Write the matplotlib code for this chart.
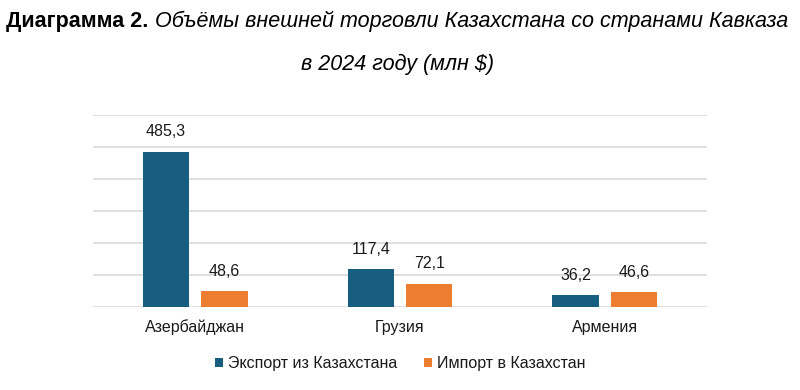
import matplotlib
matplotlib.use("Agg")
import matplotlib.pyplot as plt
import numpy as np

plt.rcParams['font.family'] = ['Liberation Sans', 'DejaVu Sans']

countries = ['Азербайджан', 'Грузия', 'Армения']
export_vals = [485.3, 117.4, 36.2]
import_vals = [48.6, 72.1, 46.6]
series_names = ['Экспорт из Казахстана', 'Импорт в Казахстан']
title_bold = 'Диаграмма 2.'
title_italic = ' Объёмы внешней торговли Казахстана со странами Кавказа'
title_line2 = 'в 2024 году (млн $)'

BLUE = '#185e80'
ORANGE = '#ed7d31'

fig = plt.figure(figsize=(8, 3.9), dpi=100)
ax = fig.add_axes([0.116, 0.2128, 0.768, 0.4923])

x = np.arange(len(countries))
w = 0.225
off = 0.143
b1 = ax.bar(x - off, export_vals, w, color=BLUE, label=series_names[0])
b2 = ax.bar(x + off, import_vals, w, color=ORANGE, label=series_names[1])

for bars, vals in ((b1, export_vals), (b2, import_vals)):
    for b, v in zip(bars, vals):
        ax.annotate(f'{v:.1f}'.replace('.', ','), (b.get_x() + b.get_width() / 2, v),
                    xytext=(0, 9), textcoords='offset points',
                    ha='center', va='bottom', fontsize=11.5, color='#1a1a1a')

ax.set_xlim(-0.5, 2.5)
ax.set_ylim(0, 600)
ax.set_yticks(np.arange(0, 601, 100))
ax.yaxis.grid(True, color='#d9d9d9', linewidth=1.2)
ax.set_axisbelow(True)
ax.tick_params(axis='y', left=False, labelleft=False)
ax.tick_params(axis='x', length=0, labelsize=11.5, pad=9, colors='#1a1a1a')
ax.set_xticks(x)
ax.set_xticklabels(countries)
for s in ax.spines.values():
    s.set_visible(False)

leg = fig.legend(loc='center', bbox_to_anchor=(0.5, 0.068), ncol=2, frameon=False,
                 fontsize=11.5, handlelength=0.5, handleheight=0.5,
                 handletextpad=0.3, columnspacing=1.7)
for t in leg.get_texts():
    t.set_color('#1a1a1a')

# title: bold part then italic part on one line
t1 = fig.text(0.008, 0.931, title_bold, fontsize=15.5, fontweight='bold', ha='left', va='baseline')
fig.canvas.draw()
r = fig.canvas.get_renderer()
bb = t1.get_window_extent(r)
fig.text(bb.x1 / fig.bbox.width, 0.931, title_italic, fontsize=15.5, style='italic',
         ha='left', va='baseline')
fig.text(0.497, 0.8205, title_line2, fontsize=15.5, style='italic', ha='center', va='baseline')

fig.savefig('out.png', dpi=100)
